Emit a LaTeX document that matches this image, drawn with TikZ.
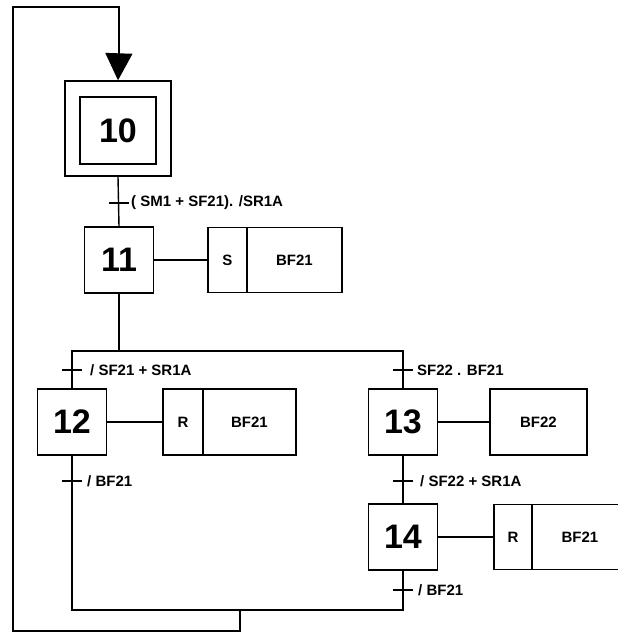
\documentclass[tikz,border=0pt]{standalone}
\usepackage{fontspec}
\setmainfont{Liberation Sans}
\usetikzlibrary{arrows.meta}
\tikzset{
  ln/.style={line width=1.4pt, line cap=rect},
  stepbox/.style={draw, line width=1.4pt, minimum width=69pt, minimum height=66pt, inner sep=0pt,
     font=\fontsize{34}{34}\selectfont\bfseries},
  actbox/.style={draw, line width=1.4pt, minimum height=65pt, inner sep=0pt,
     font=\fontsize{15}{15}\selectfont\bfseries},
  tlabel/.style={anchor=west, inner sep=0pt, font=\fontsize{15}{15}\selectfont\bfseries},
}
\begin{document}
\begin{tikzpicture}[x=1pt,y=-1pt]
\clip (0,0) rectangle (618,633);
\fill[white] (0,0) rectangle (618,633);
% initial step 10
\node[draw, line width=1.4pt, minimum width=106pt, minimum height=95pt, inner sep=0pt] (s10) at (118,128.5) {};
\node[stepbox, minimum width=76pt, minimum height=67pt] (s10i) at (118,130.5) {10};
% steps
\node[stepbox] (s11) at (119,260) {11};
\node[stepbox] (s12) at (72,422) {12};
\node[stepbox] (s13) at (403,422) {13};
\node[stepbox] (s14) at (403,537) {14};
% actions
\node[actbox, minimum width=39pt] (a11s) at (227.5,260) {S};
\node[actbox, minimum width=95pt] (a11b) at (294.5,260) {BF21};
\node[actbox, minimum width=40pt, minimum height=66pt] (a12r) at (183,422) {R};
\node[actbox, minimum width=93pt, minimum height=66pt] (a12b) at (249.5,422) {BF21};
\node[actbox, minimum width=97pt, minimum height=66pt] (a13b) at (538.5,422) {BF22};
\node[actbox, minimum width=38pt] (a14r) at (513,537) {R};
\node[actbox, minimum width=96pt] (a14b) at (580,537) {BF21};
% action links
\draw[ln] (s11.east) -- (a11s.west);
\draw[ln] (s12.east) -- (a12r.west);
\draw[ln] (s13.east) -- (a13b.west);
\draw[ln] (s14.east) -- (a14r.west);
% coordinates
\coordinate (dl) at (72,351);
\coordinate (dc) at (119,351);
\coordinate (dr) at (403,351);
\coordinate (cl) at (72,610);
\coordinate (cm) at (240,610);
\coordinate (cr) at (403,610);
\coordinate (lb) at (240,631);
\coordinate (lbl) at (13,631);
\coordinate (ltl) at (13,7);
\coordinate (ltr) at (119,7);
% links
\draw[ln] (s10.south) -- (s11.north);
\draw[ln] (s11.south) -- (dc);
\draw[ln] (dl) -- (dr);
\draw[ln] (dl) -- (s12.north);
\draw[ln] (dr) -- (s13.north);
\draw[ln] (s12.south) -- (cl);
\draw[ln] (s13.south) -- (s14.north);
\draw[ln] (s14.south) -- (cr);
\draw[ln] (cl) -- (cr);
\draw[ln] (cm) -- (lb) -- (lbl) -- (ltl) -- (ltr) -- (119,60);
\draw[line width=1.4pt, -{Triangle[width=27pt,length=27pt]}] (119,50) -- (s10.north);
% transitions
\draw[ln] (110,203) -- (128,203);
\node[tlabel] (t1) at (131,203) {( SM1 + SF21). /SR1A};
\draw[ln] (63,370) -- (81,370);
\node[tlabel] (t2) at (90,370) {/ SF21 + SR1A};
\draw[ln] (394,370) -- (412,370);
\node[tlabel] (t3) at (417,370) {SF22 . BF21};
\draw[ln] (63,481) -- (81,481);
\node[tlabel] (t4) at (87,481) {/ BF21};
\draw[ln] (394,481) -- (412,481);
\node[tlabel] (t5) at (420,481) {/ SF22 + SR1A};
\draw[ln] (394,590) -- (412,590);
\node[tlabel] (t6) at (418,590) {/ BF21};
\end{tikzpicture}
\end{document}
